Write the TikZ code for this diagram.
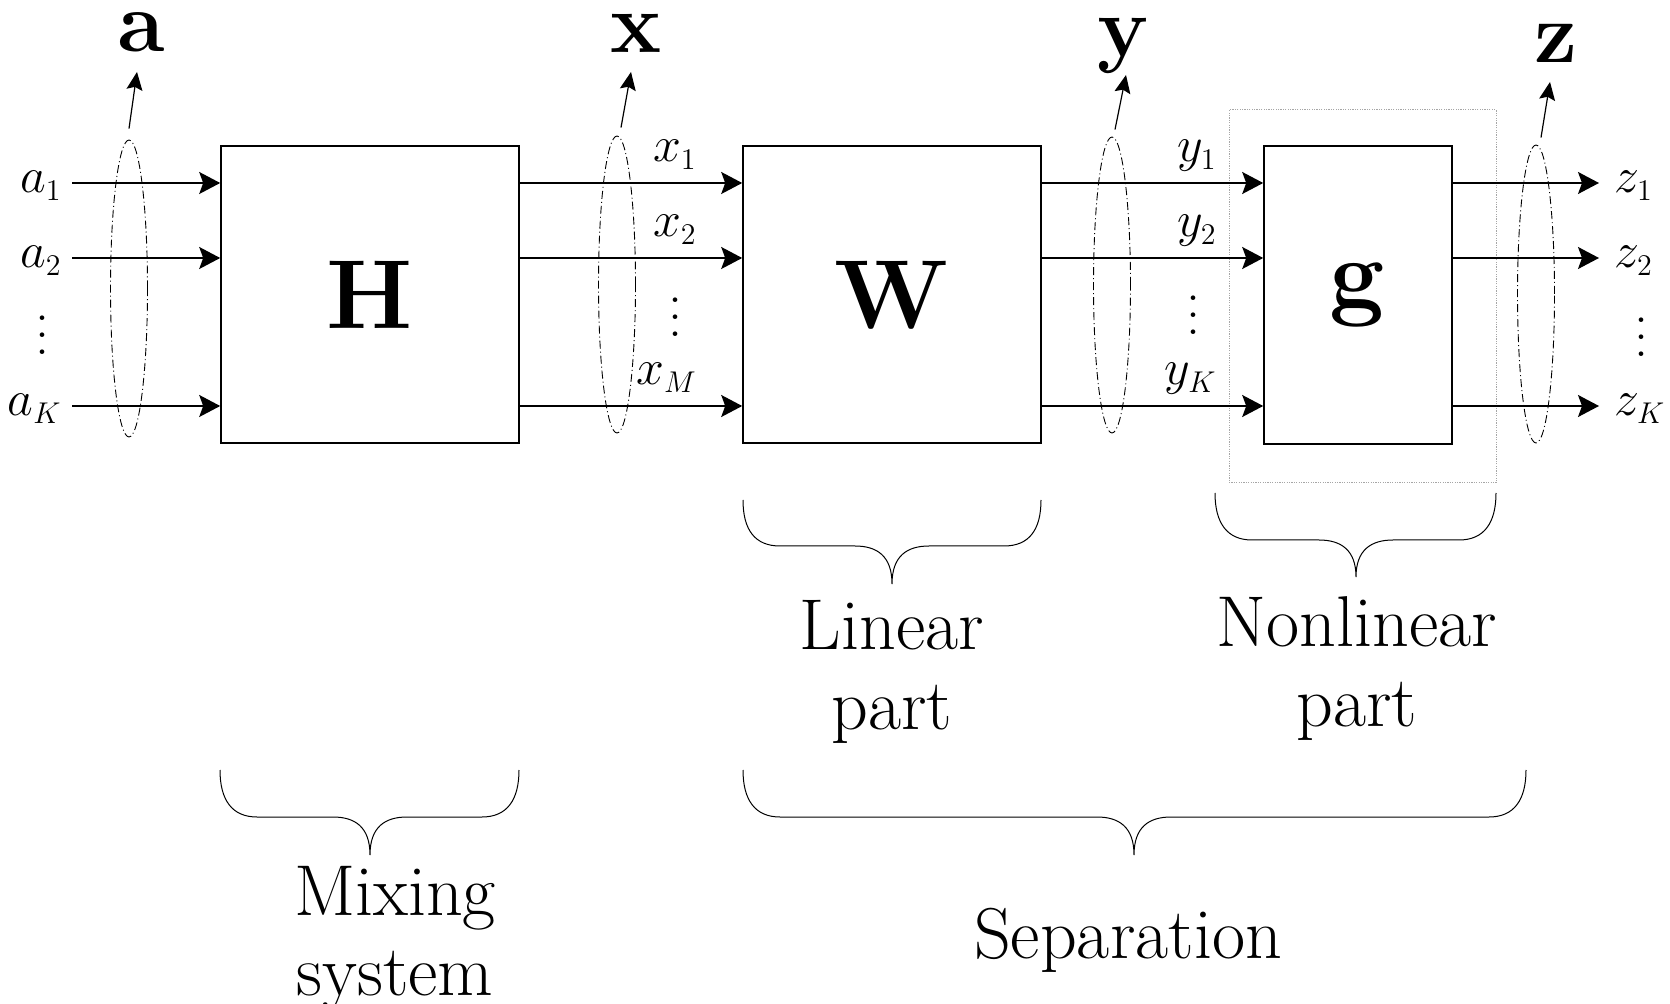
\RequirePackage{fix-cm}
\documentclass[tikz,border=0pt]{standalone}
\usetikzlibrary{arrows.meta,shapes.geometric,calc}
\DeclareMathSizes{25}{25}{15}{11}
\newcommand\vdts{\vbox{\baselineskip=8.5pt\lineskiplimit=-20pt\hbox{.}\hbox{.}\hbox{.}}}
\newcommand\mybrace[6]{%
  \draw[bracel] (#1,#4) .. controls (#1,{#4+30}) and ({#1+12},#5) .. ({#1+37},#5)
    -- ({#3-37},#5) .. controls ({#3-15},#5) and (#3,{#5+10}) .. (#3,#6)
    .. controls (#3,{#5+10}) and ({#3+15},#5) .. ({#3+37},#5)
    -- ({#2-37},#5) .. controls ({#2-12},#5) and (#2,{#4+30}) .. (#2,#4);}
\tikzset{
  blockbox/.style={draw, line width=0.8pt, inner sep=0pt, font=\fontsize{49}{56}\selectfont},
  grpell/.style={draw, ellipse, line width=0.45pt, dash pattern=on 4pt off 1.5pt on 0.5pt off 1.5pt, minimum width=18.5pt, inner sep=0pt},
  sigline/.style={line width=0.8pt, -{Stealth[length=10.5pt,width=11pt,inset=2pt]}},
  uparr/.style={line width=0.6pt, -{Stealth[length=9pt,width=8pt,inset=1.5pt]}},
  sublbl/.style={inner sep=0pt, font=\fontsize{25}{30}\selectfont},
  vecl/.style={inner sep=0pt, font=\fontsize{43}{50}\selectfont},
  partlbl/.style={inner sep=0pt, align=center, font=\fontsize{36}{40}\selectfont},
  bracel/.style={line width=0.5pt},
  dotsl/.style={inner sep=0pt, font=\fontsize{28}{32}\selectfont},
}
\begin{document}
\begin{tikzpicture}[x=0.5pt,y=-0.5pt]
\useasboundingbox (0,0) rectangle (1670,1004);
% dotted group around g
\node[draw=black!35, line width=0.5pt, dash pattern=on 0.6pt off 0.6pt, minimum width=133.5pt, minimum height=186.5pt, inner sep=0pt] (NL) at (1362.5,296.5) {};
% blocks
\node[blockbox, minimum width=149pt, minimum height=148.5pt] (H) at (370,294.5) {$\mathbf{H}$};
\node[blockbox, minimum width=149pt, minimum height=148.5pt] (W) at (892,294.5) {$\mathbf{W}$};
\node[blockbox, minimum width=94pt, minimum height=149pt] (G) at (1358,295) {$\mathbf{g}$};
% rows
\coordinate (r1) at (0,183);
\coordinate (r2) at (0,258);
\coordinate (rK) at (0,406);
% inputs
\coordinate (ia1) at (72,183);
\coordinate (ia2) at (72,258);
\coordinate (iaK) at (72,406);
\draw[sigline] (ia1) -- (ia1 -| H.west);
\draw[sigline] (ia2) -- (ia2 -| H.west);
\draw[sigline] (iaK) -- (iaK -| H.west);
% H to W
\draw[sigline] (H.east |- r1) -- (W.west |- r1);
\draw[sigline] (H.east |- r2) -- (W.west |- r2);
\draw[sigline] (H.east |- rK) -- (W.west |- rK);
% W to g
\draw[sigline] (W.east |- r1) -- (G.west |- r1);
\draw[sigline] (W.east |- r2) -- (G.west |- r2);
\draw[sigline] (W.east |- rK) -- (G.west |- rK);
% outputs
\coordinate (oz1) at (1599,183);
\coordinate (oz2) at (1599,258);
\coordinate (ozK) at (1599,406);
\draw[sigline] (G.east |- r1) -- (oz1);
\draw[sigline] (G.east |- r2) -- (oz2);
\draw[sigline] (G.east |- rK) -- (ozK);
% signal labels
\node[sublbl, anchor=base east] (la1) at (62,193) {$a_1$};
\node[sublbl, anchor=base east] (la2) at (62,268) {$a_2$};
\node[sublbl, anchor=base east] (laK) at (62,416) {$a_K$};
\node[dotsl] (da) at (42,335) {\vdts};
\node[sublbl, anchor=base east] (lx1) at (697,162) {$x_1$};
\node[sublbl, anchor=base east] (lx2) at (697,237) {$x_2$};
\node[sublbl, anchor=base east] (lxM) at (697,385) {$x_M$};
\node[dotsl] (dx) at (675,317) {\vdts};
\node[sublbl, anchor=base east] (ly1) at (1217,162) {$y_1$};
\node[sublbl, anchor=base east] (ly2) at (1217,237) {$y_2$};
\node[sublbl, anchor=base east] (lyK) at (1217,385) {$y_K$};
\node[dotsl] (dy) at (1193,315) {\vdts};
\node[sublbl, anchor=base west] (lz1) at (1614,193) {$z_1$};
\node[sublbl, anchor=base west] (lz2) at (1614,268) {$z_2$};
\node[sublbl, anchor=base west] (lzK) at (1614,416) {$z_K$};
\node[dotsl] (dz) at (1641,337) {\vdts};
% group ellipses
\node[grpell, minimum height=148.5pt] (ea) at (129,288.5) {};
\node[grpell, minimum height=148.5pt] (ex) at (617,284.5) {};
\node[grpell, minimum height=148pt] (ey) at (1112,285) {};
\node[grpell, minimum height=149pt] (ez) at (1536,294) {};
% vector labels and arrows
\node[vecl, anchor=base] (va) at (141,52) {$\mathbf{a}$};
\node[vecl, anchor=base] (vx) at (636,53) {$\mathbf{x}$};
\node[vecl, anchor=base] (vy) at (1124,57) {$\mathbf{y}$};
\node[vecl, anchor=base] (vz) at (1556,63) {$\mathbf{z}$};
\coordinate (ta) at (137,72);
\coordinate (tx) at (631,72);
\coordinate (ty) at (1126,75);
\coordinate (tz) at (1550,82);
\draw[uparr] ($(ea.north)+(0,-11)$) -- (ta);
\draw[uparr] ($(ex.north)+(4,-8)$) -- (tx);
\draw[uparr] ($(ey.north)+(3,-7)$) -- (ty);
\draw[uparr] ($(ez.north)+(5,-7)$) -- (tz);
% braces
\mybrace{743}{1041}{892}{500}{546}{584}
\mybrace{1215}{1496}{1356}{493}{540}{577}
\mybrace{220}{519}{370}{770}{817}{855}
\mybrace{743}{1526}{1134}{770}{817}{855}
% brace texts
\node[partlbl, anchor=north] (tl) at (892,600) {Linear\\part};
\node[partlbl, anchor=north] (tn) at (1357,596) {Nonlinear\\part};
\node[partlbl, anchor=north] (tm) at (395,866) {Mixing\\system};
\node[partlbl, anchor=north] (ts) at (1128,908) {Separation};
\end{tikzpicture}
\end{document}
